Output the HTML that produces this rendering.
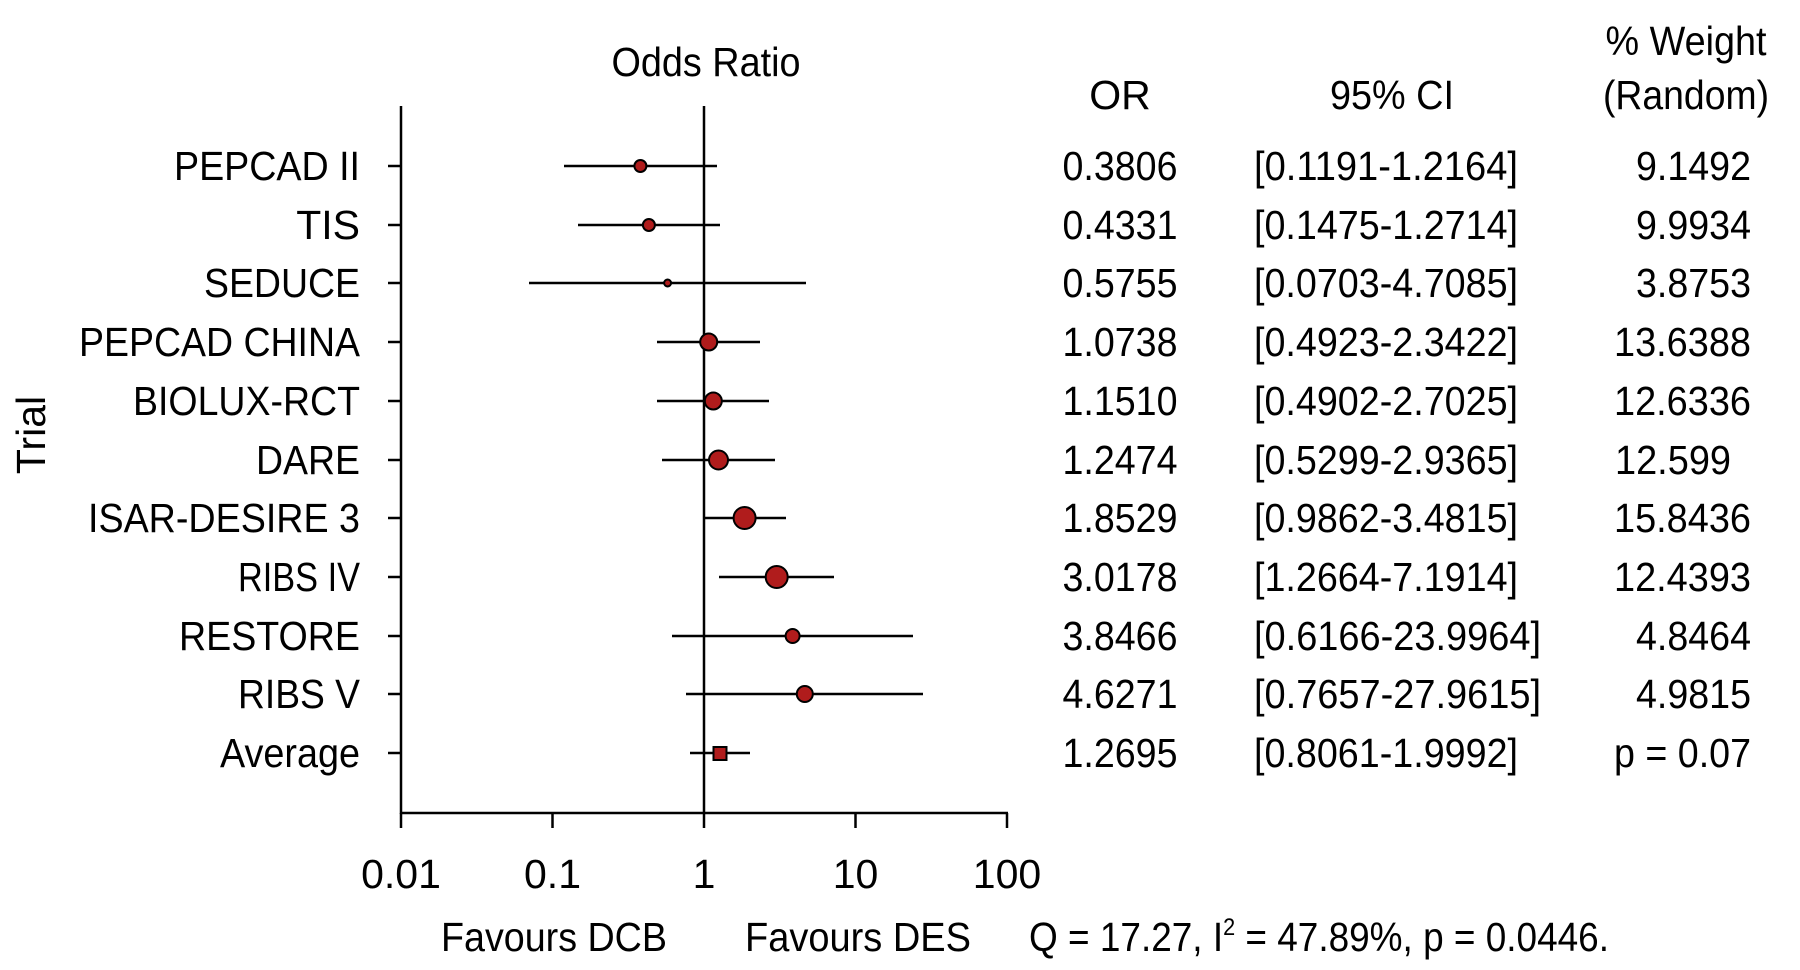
<!DOCTYPE html>
<html><head><meta charset="utf-8"><style>
html,body{margin:0;padding:0;background:#fff;}
svg{display:block;}
text{font-family:"Liberation Sans",sans-serif;font-size:41px;fill:#000;}
</style></head><body>
<svg width="1800" height="970" viewBox="0 0 1800 970" xmlns="http://www.w3.org/2000/svg">
<g stroke="#000" stroke-width="2.5" fill="none">
<line x1="401" y1="106" x2="401" y2="814"/>
<line x1="400" y1="813" x2="1008" y2="813"/>
<line x1="704" y1="106" x2="704" y2="813"/>
<line x1="401" y1="813" x2="401" y2="828"/>
<line x1="552.5" y1="813" x2="552.5" y2="828"/>
<line x1="704" y1="813" x2="704" y2="828"/>
<line x1="855.5" y1="813" x2="855.5" y2="828"/>
<line x1="1007" y1="813" x2="1007" y2="828"/>
<g>
<line x1="388" y1="166" x2="401" y2="166"/><line x1="388" y1="225" x2="401" y2="225"/>
<line x1="388" y1="283" x2="401" y2="283"/><line x1="388" y1="342" x2="401" y2="342"/>
<line x1="388" y1="401" x2="401" y2="401"/><line x1="388" y1="460" x2="401" y2="460"/>
<line x1="388" y1="518" x2="401" y2="518"/><line x1="388" y1="577" x2="401" y2="577"/>
<line x1="388" y1="636" x2="401" y2="636"/><line x1="388" y1="694" x2="401" y2="694"/>
<line x1="388" y1="753" x2="401" y2="753"/>
</g>
<line x1="564" y1="166" x2="717" y2="166"/>
<line x1="578" y1="225" x2="720" y2="225"/>
<line x1="529" y1="283" x2="806" y2="283"/>
<line x1="657" y1="342" x2="760" y2="342"/>
<line x1="657" y1="401" x2="769" y2="401"/>
<line x1="662" y1="460" x2="775" y2="460"/>
<line x1="703" y1="518" x2="786" y2="518"/>
<line x1="719" y1="577" x2="834" y2="577"/>
<line x1="672" y1="636" x2="913" y2="636"/>
<line x1="686" y1="694" x2="923" y2="694"/>
<line x1="690" y1="753" x2="750" y2="753"/>
</g>
<g fill="#b01c1c" stroke="#000" stroke-width="2">
<circle cx="640.4" cy="166" r="6"/>
<circle cx="648.9" cy="225" r="6"/>
<circle cx="667.6" cy="283" r="3.5"/>
<circle cx="708.7" cy="342" r="8.5"/>
<circle cx="713.3" cy="401" r="8.5"/>
<circle cx="718.5" cy="460" r="9.5"/>
<circle cx="744.6" cy="518" r="11"/>
<circle cx="776.7" cy="577" r="11"/>
<circle cx="792.6" cy="636" r="7"/>
<circle cx="804.8" cy="694" r="8"/>
<rect x="713.5" y="747" width="13" height="13"/>
</g>
<g text-anchor="end">
<text x="360" y="180" textLength="186" lengthAdjust="spacingAndGlyphs">PEPCAD II</text>
<text x="360" y="239">TIS</text>
<text x="360" y="297" textLength="156" lengthAdjust="spacingAndGlyphs">SEDUCE</text>
<text x="360" y="356" textLength="281" lengthAdjust="spacingAndGlyphs">PEPCAD CHINA</text>
<text x="360" y="415" textLength="227" lengthAdjust="spacingAndGlyphs">BIOLUX-RCT</text>
<text x="360" y="474" textLength="104" lengthAdjust="spacingAndGlyphs">DARE</text>
<text x="360" y="532" textLength="272" lengthAdjust="spacingAndGlyphs">ISAR-DESIRE 3</text>
<text x="360" y="591" textLength="122" lengthAdjust="spacingAndGlyphs">RIBS IV</text>
<text x="360" y="650" textLength="181" lengthAdjust="spacingAndGlyphs">RESTORE</text>
<text x="360" y="708" textLength="122" lengthAdjust="spacingAndGlyphs">RIBS V</text>
<text x="360" y="767" textLength="140" lengthAdjust="spacingAndGlyphs">Average</text>
</g>
<g text-anchor="middle">
<text x="706" y="76" textLength="189" lengthAdjust="spacingAndGlyphs">Odds Ratio</text>
<text x="1120" y="109">OR</text>
<text x="1392" y="109" textLength="124" lengthAdjust="spacingAndGlyphs">95% CI</text>
<text x="1686" y="55" textLength="161" lengthAdjust="spacingAndGlyphs">% Weight</text>
<text x="1686" y="109" textLength="166" lengthAdjust="spacingAndGlyphs">(Random)</text>
<text x="401" y="888">0.01</text>
<text x="552.5" y="888">0.1</text>
<text x="704" y="888">1</text>
<text x="855.5" y="888">10</text>
<text x="1007" y="888">100</text>
<text x="554" y="951" textLength="226" lengthAdjust="spacingAndGlyphs">Favours DCB</text>
<text x="858" y="951" textLength="226" lengthAdjust="spacingAndGlyphs">Favours DES</text>
<text transform="translate(45,435) rotate(-90)">Trial</text>
</g>
<g text-anchor="middle">
<text x="1120" y="180" textLength="115" lengthAdjust="spacingAndGlyphs">0.3806</text><text x="1120" y="239" textLength="115" lengthAdjust="spacingAndGlyphs">0.4331</text>
<text x="1120" y="297" textLength="115" lengthAdjust="spacingAndGlyphs">0.5755</text><text x="1120" y="356" textLength="115" lengthAdjust="spacingAndGlyphs">1.0738</text>
<text x="1120" y="415" textLength="115" lengthAdjust="spacingAndGlyphs">1.1510</text><text x="1120" y="474" textLength="115" lengthAdjust="spacingAndGlyphs">1.2474</text>
<text x="1120" y="532" textLength="115" lengthAdjust="spacingAndGlyphs">1.8529</text><text x="1120" y="591" textLength="115" lengthAdjust="spacingAndGlyphs">3.0178</text>
<text x="1120" y="650" textLength="115" lengthAdjust="spacingAndGlyphs">3.8466</text><text x="1120" y="708" textLength="115" lengthAdjust="spacingAndGlyphs">4.6271</text>
<text x="1120" y="767" textLength="115" lengthAdjust="spacingAndGlyphs">1.2695</text>
</g>
<g>
<text x="1254" y="180" textLength="264" lengthAdjust="spacingAndGlyphs">[0.1191-1.2164]</text>
<text x="1254" y="239" textLength="264" lengthAdjust="spacingAndGlyphs">[0.1475-1.2714]</text>
<text x="1254" y="297" textLength="264" lengthAdjust="spacingAndGlyphs">[0.0703-4.7085]</text>
<text x="1254" y="356" textLength="264" lengthAdjust="spacingAndGlyphs">[0.4923-2.3422]</text>
<text x="1254" y="415" textLength="264" lengthAdjust="spacingAndGlyphs">[0.4902-2.7025]</text>
<text x="1254" y="474" textLength="264" lengthAdjust="spacingAndGlyphs">[0.5299-2.9365]</text>
<text x="1254" y="532" textLength="264" lengthAdjust="spacingAndGlyphs">[0.9862-3.4815]</text>
<text x="1254" y="591" textLength="264" lengthAdjust="spacingAndGlyphs">[1.2664-7.1914]</text>
<text x="1254" y="650" textLength="287" lengthAdjust="spacingAndGlyphs">[0.6166-23.9964]</text>
<text x="1254" y="708" textLength="287" lengthAdjust="spacingAndGlyphs">[0.7657-27.9615]</text>
<text x="1254" y="767" textLength="264" lengthAdjust="spacingAndGlyphs">[0.8061-1.9992]</text>
</g>
<g text-anchor="end">
<text x="1751" y="180" textLength="115" lengthAdjust="spacingAndGlyphs">9.1492</text><text x="1751" y="239" textLength="115" lengthAdjust="spacingAndGlyphs">9.9934</text>
<text x="1751" y="297" textLength="115" lengthAdjust="spacingAndGlyphs">3.8753</text><text x="1751" y="356" textLength="137" lengthAdjust="spacingAndGlyphs">13.6388</text>
<text x="1751" y="415" textLength="137" lengthAdjust="spacingAndGlyphs">12.6336</text>
<text x="1751" y="532" textLength="137" lengthAdjust="spacingAndGlyphs">15.8436</text><text x="1751" y="591" textLength="137" lengthAdjust="spacingAndGlyphs">12.4393</text>
<text x="1751" y="650" textLength="115" lengthAdjust="spacingAndGlyphs">4.8464</text><text x="1751" y="708" textLength="115" lengthAdjust="spacingAndGlyphs">4.9815</text>
<text x="1751" y="767" textLength="137" lengthAdjust="spacingAndGlyphs">p = 0.07</text>
</g>
<text x="1615" y="474" textLength="116" lengthAdjust="spacingAndGlyphs">12.599</text>
<text x="1029" y="951" textLength="580" lengthAdjust="spacingAndGlyphs">Q = 17.27, I<tspan font-size="24" dy="-16">2</tspan><tspan dy="16"> = 47.89%, p = 0.0446.</tspan></text>
</svg>
</body></html>
